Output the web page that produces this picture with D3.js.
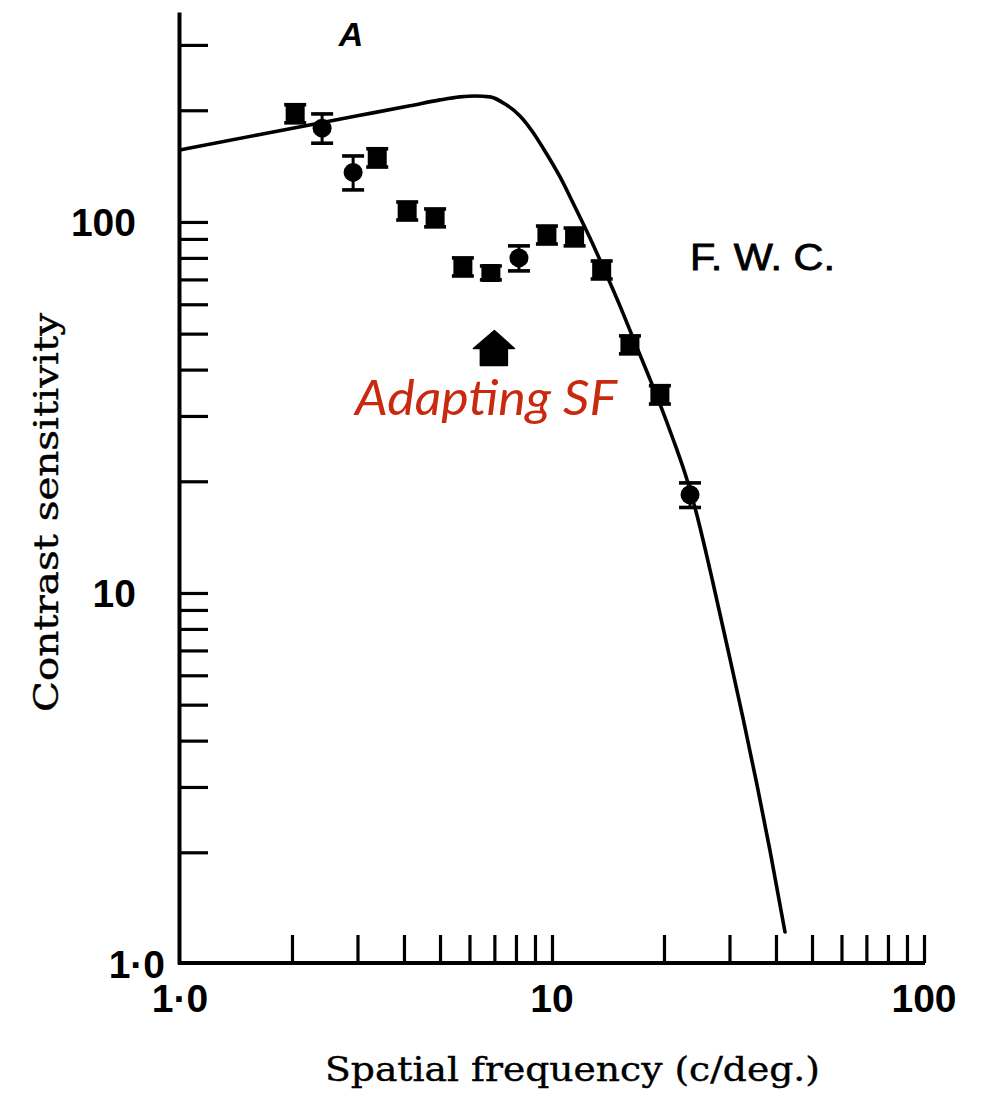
<!DOCTYPE html>
<html>
<head>
<meta charset="utf-8">
<script src="https://cdn.jsdelivr.net/npm/d3@7"></script>
<style>
  html, body { margin: 0; padding: 0; background: #fff; }
  svg { display: block; }
</style>
</head>
<body>
<script>
// ---------- data ----------
const pointFreq  = [2.04, 2.41, 2.92, 3.39, 4.08, 4.85, 5.76, 6.85, 8.15, 9.69, 11.5, 13.6, 16.2, 19.5, 23.5];
const pointSens  = [196, 179, 136, 149, 107, 102.5, 75.6, 72.9, 80, 92.2, 91.1, 74.2, 46.6, 34.2, 18.4];
const pointLo    = [185, 163, 122, 140.6, 101.2, 97, 71.5, 69.8, 73.8, 87.2, 86.2, 70.2, 44.1, 32.3, 17.0];
const pointHi    = [207, 195.5, 150.6, 157.5, 113.2, 108.4, 80.0, 76.1, 86.2, 97.5, 96.3, 78.5, 49.3, 36.2, 19.8];
const pointShape = ["s","c","c","s","s","s","s","s","c","s","s","s","s","s","c"];

const curveFreq = [1.0, 1.641, 3.047, 4.153, 5.0, 5.657, 6.209, 6.813, 7.475, 8.203, 8.837, 9.459, 10.51,
                   11.39, 12.65, 14.06, 15.23, 16.51, 18.01, 19.51, 21.15, 23.06, 24.53, 25.78, 27.09,
                   29.73, 32.62, 35.57, 38.55, 42.3];
const curveSens = [156.3, 172.1, 193.8, 205.7, 213.3, 217.3, 218.6, 217.3, 208.0, 193.1, 175.9, 158.3, 132.2,
                   112.5, 90.5, 71.5, 59.4, 48.7, 39.4, 32.3, 26.0, 20.2, 16.2, 13.2, 10.64,
                   7.02, 4.60, 3.04, 2.02, 1.22];

const adaptingSF = 7.0;
const arrowTipSens = 51;

const xTickValues = [2,3,4,5,6,7,8,9,10,20,30,40,50,60,70,80,90,100];
const yTickValues = [2,3,4,5,6,7,8,9,10,20,30,40,50,60,70,80,90,100,200,300];
const xLabelValues = [1, 10, 100];
const xLabelTexts  = ["1·0", "10", "100"];
const yLabelValues = [1, 10, 100];
const yLabelTexts  = ["1·0", "10", "100"];

const xTitle = "Spatial frequency (c/deg.)";
const yTitle = "Contrast sensitivity";
const panelLabel = "A";
const subjectLabel = "F. W. C.";
const annotation = "Adapting SF";

// ---------- chart ----------
const W = 984, H = 1095;
const svg = d3.select("body").append("svg").attr("width", W).attr("height", H);

const x = d3.scaleLog().domain([1, 100]).range([180, 924]);
const y = d3.scaleLog().domain([1, 368]).range([964, 12]);

// axes
const yAxis = d3.axisRight(y).tickValues(yTickValues).tickSize(29).tickSizeOuter(0).tickFormat("");
const gy = svg.append("g").attr("transform", "translate(179,0)").call(yAxis);
gy.select(".domain").attr("stroke", "#000").attr("stroke-width", 4);
gy.selectAll(".tick line").attr("stroke", "#000").attr("stroke-width", 3.2);

const xAxis = d3.axisTop(x).tickValues(xTickValues).tickSize(28).tickSizeOuter(0).tickFormat("");
const gx = svg.append("g").attr("transform", "translate(0,963)").call(xAxis);
gx.select(".domain").attr("stroke", "#000").attr("stroke-width", 4)
  .attr("d", `M${x(1)-2},0H${x(100)+1}`);
gx.selectAll(".tick line").attr("stroke", "#000").attr("stroke-width", 3.2);

// tick labels
const tickFont = "'Liberation Sans', Arial, sans-serif";
svg.append("g").selectAll("text").data(xLabelValues).join("text")
  .attr("x", d => x(d)).attr("y", 1012)
  .attr("text-anchor", "middle")
  .attr("font-family", tickFont).attr("font-weight", "bold").attr("font-size", 39)
  .text((d, i) => xLabelTexts[i]);

svg.append("g").selectAll("text").data(yLabelValues).join("text")
  .attr("x", (d, i) => i === 0 ? 165 : 136).attr("y", d => y(d))
  .attr("dy", "0.36em")
  .attr("text-anchor", "end")
  .attr("font-family", tickFont).attr("font-weight", "bold").attr("font-size", 39)
  .text((d, i) => yLabelTexts[i]);

// axis titles
svg.append("text")
  .attr("x", 325).attr("y", 1081)
  .attr("font-family", "'DejaVu Serif', serif").attr("font-size", 33)
  .attr("stroke", "#000").attr("stroke-width", 0.4)
  .attr("textLength", 495).attr("lengthAdjust", "spacingAndGlyphs")
  .text(xTitle);

svg.append("text")
  .attr("transform", "translate(58,712) rotate(-90)")
  .attr("font-family", "'DejaVu Serif', serif").attr("font-size", 34)
  .attr("stroke", "#000").attr("stroke-width", 0.4)
  .attr("textLength", 399).attr("lengthAdjust", "spacingAndGlyphs")
  .text(yTitle);

// curve
const curveData = curveFreq.map((f, i) => [f, curveSens[i]]);
svg.append("path")
  .datum(curveData)
  .attr("fill", "none").attr("stroke", "#000").attr("stroke-width", 3.6)
  .attr("stroke-linejoin", "round").attr("stroke-linecap", "round")
  .attr("d", d3.line().x(d => x(d[0])).y(d => y(d[1])).curve(d3.curveMonotoneX));

// points with error bars
const pts = pointFreq.map((f, i) => ({f, v: pointSens[i], lo: pointLo[i], hi: pointHi[i], s: pointShape[i]}));
const gp = svg.append("g").selectAll("g").data(pts).join("g");
gp.append("line")
  .attr("x1", d => x(d.f)).attr("x2", d => x(d.f))
  .attr("y1", d => y(d.lo)).attr("y2", d => y(d.hi))
  .attr("stroke", "#000").attr("stroke-width", 3);
gp.append("line")
  .attr("x1", d => x(d.f) - 11).attr("x2", d => x(d.f) + 11)
  .attr("y1", d => y(d.lo)).attr("y2", d => y(d.lo))
  .attr("stroke", "#000").attr("stroke-width", 3.6);
gp.append("line")
  .attr("x1", d => x(d.f) - 11).attr("x2", d => x(d.f) + 11)
  .attr("y1", d => y(d.hi)).attr("y2", d => y(d.hi))
  .attr("stroke", "#000").attr("stroke-width", 3.6);
gp.filter(d => d.s === "s").append("rect")
  .attr("x", d => x(d.f) - 9.5).attr("y", d => y(d.v) - 9)
  .attr("width", 19).attr("height", 18).attr("rx", 1.5)
  .attr("fill", "#000");
gp.filter(d => d.s === "c").append("circle")
  .attr("cx", d => x(d.f)).attr("cy", d => y(d.v)).attr("r", 9.5)
  .attr("fill", "#000");

// adapting SF arrow
const ax = x(adaptingSF), ay = y(arrowTipSens);
svg.append("path")
  .attr("d", `M${ax},${ay} L${ax+20},${ay+18} L${ax+13},${ay+18} L${ax+13},${ay+35} L${ax-14},${ay+35} L${ax-14},${ay+18} L${ax-21},${ay+18} Z`)
  .attr("fill", "#000").attr("stroke", "#000").attr("stroke-width", 1.5).attr("stroke-linejoin", "round");

// labels
svg.append("text")
  .attr("x", 351).attr("y", 46).attr("text-anchor", "middle")
  .attr("font-family", tickFont).attr("font-style", "italic").attr("font-weight", "bold").attr("font-size", 34)
  .text(panelLabel);

svg.append("text")
  .attr("x", 690).attr("y", 270)
  .attr("font-family", tickFont).attr("font-size", 36)
  .attr("stroke", "#000").attr("stroke-width", 0.8)
  .attr("textLength", 145).attr("lengthAdjust", "spacingAndGlyphs")
  .text(subjectLabel);

svg.append("text")
  .attr("x", 355).attr("y", 415)
  .attr("font-family", "Lato, 'Open Sans', sans-serif").attr("font-style", "italic").attr("font-size", 49)
  .attr("fill", "#c8290f")
  .attr("textLength", 262).attr("lengthAdjust", "spacingAndGlyphs")
  .text(annotation);
</script>
</body>
</html>
